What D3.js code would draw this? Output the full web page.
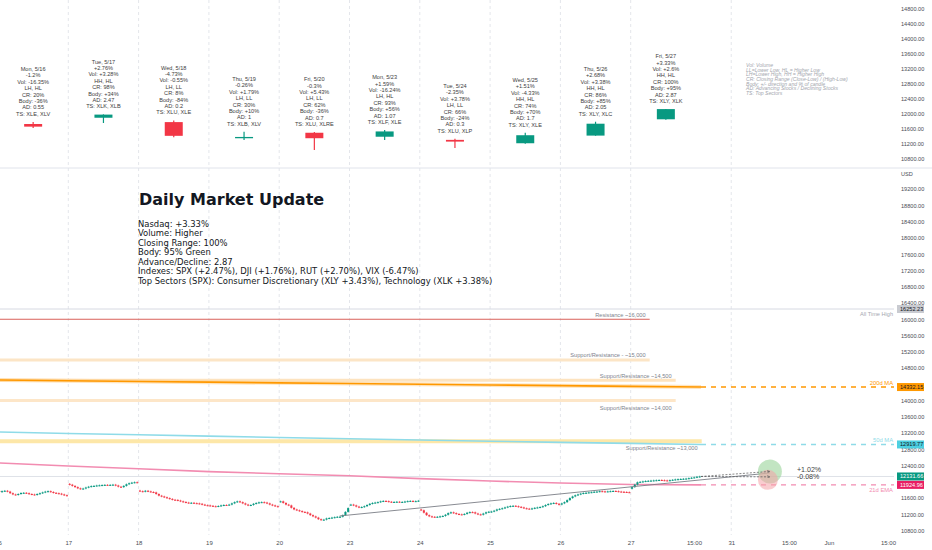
<!DOCTYPE html>
<html>
<head>
<meta charset="utf-8">
<script src="https://cdn.jsdelivr.net/npm/d3@7"></script>
<style>
html, body { margin: 0; padding: 0; background: #fff; }
svg { display: block; font-family: "Liberation Sans", Arial, sans-serif; }
</style>
</head>
<body>
<svg id="chart" width="932" height="550"></svg>
<script>
// ---- daily candles (top pane) ----
const dayLabels  = ["Mon, 5/16", "Tue, 5/17", "Wed, 5/18", "Thu, 5/19", "Fri, 5/20", "Mon, 5/23", "Tue, 5/24", "Wed, 5/25", "Thu, 5/26", "Fri, 5/27"];
const dailyOpen  = [11733, 11900, 11784, 11360, 11500, 11394, 11310, 11220, 11424, 11859];
const dailyHigh  = [11790, 11990, 11827, 11528, 11520, 11573, 11340, 11501, 11794, 12131];
const dailyLow   = [11630, 11760, 11383, 11306, 11040, 11306, 11093, 11208, 11420, 11845];
const dailyClose = [11663, 11984, 11418, 11388, 11354, 11535, 11264, 11434, 11741, 12131];
const dayChange  = ["-1.2%", "+2.76%", "-4.73%", "-0.26%", "-0.3%", "+1.59%", "-2.35%", "+1.51%", "+2.68%", "+3.33%"];
const volChange  = ["-16.35%", "+3.28%", "-0.55%", "+1.79%", "+5.43%", "-16.24%", "+3.78%", "-4.33%", "+3.38%", "+2.6%"];
const structure  = ["LH, HL", "HH, HL", "LH, LL", "LH, LL", "LH, LL", "LH, HL", "LH, LL", "HH, HL", "HH, HL", "HH, HL"];
const closeRange = ["20%", "98%", "8%", "30%", "62%", "93%", "66%", "74%", "86%", "100%"];
const bodyPct    = ["-36%", "+34%", "-84%", "+10%", "-36%", "+56%", "-24%", "+70%", "+85%", "+95%"];
const adRatio    = ["0.55", "2.47", "0.2", "1", "0.7", "1.07", "0.3", "1.7", "2.05", "2.87"];
const topSectors = ["XLE, XLV", "XLK, XLB", "XLU, XLE", "XLB, XLV", "XLU, XLRE", "XLF, XLE", "XLU, XLP", "XLY, XLE", "XLY, XLC", "XLY, XLK"];

// ---- intraday 15-minute closes (bottom pane), one row per session ----
const sessionOpen = [11776, 11950, 11785, 11420, 11510, 11430, 11320, 11255, 11440, 11830];
const intraday = [
  [11750, 11770, 11780, 11760, 11720, 11690, 11680, 11700, 11725, 11730, 11720, 11700, 11690, 11680, 11700, 11720, 11740, 11760, 11770, 11750, 11730, 11720, 11710, 11690, 11670, 11662],
  [11930, 11900, 11870, 11840, 11825, 11835, 11860, 11880, 11895, 11900, 11910, 11915, 11920, 11925, 11920, 11925, 11930, 11910, 11880, 11870, 11900, 11940, 11965, 11980, 11990, 11984],
  [11770, 11760, 11780, 11765, 11750, 11740, 11700, 11660, 11640, 11620, 11600, 11580, 11560, 11555, 11540, 11520, 11505, 11490, 11480, 11485, 11475, 11470, 11460, 11440, 11425, 11418],
  [11410, 11400, 11395, 11405, 11420, 11430, 11425, 11440, 11470, 11500, 11520, 11500, 11470, 11440, 11420, 11430, 11460, 11480, 11495, 11500, 11490, 11470, 11440, 11420, 11400, 11389],
  [11520, 11480, 11440, 11420, 11360, 11320, 11300, 11280, 11260, 11250, 11220, 11180, 11150, 11120, 11080, 11060, 11070, 11100, 11110, 11120, 11130, 11140, 11140, 11180, 11260, 11354],
  [11440, 11420, 11390, 11370, 11380, 11400, 11430, 11460, 11480, 11490, 11500, 11520, 11530, 11525, 11510, 11500, 11505, 11510, 11500, 11505, 11515, 11525, 11530, 11520, 11525, 11535],
  [11300, 11240, 11180, 11150, 11140, 11135, 11140, 11150, 11160, 11190, 11230, 11250, 11230, 11210, 11200, 11195, 11210, 11240, 11255, 11250, 11220, 11200, 11190, 11220, 11250, 11264],
  [11270, 11290, 11320, 11335, 11350, 11370, 11390, 11405, 11410, 11400, 11385, 11370, 11350, 11340, 11335, 11345, 11360, 11370, 11380, 11400, 11430, 11455, 11470, 11480, 11460, 11434],
  [11470, 11500, 11550, 11600, 11640, 11670, 11690, 11710, 11725, 11730, 11740, 11745, 11755, 11760, 11770, 11765, 11760, 11765, 11770, 11775, 11770, 11760, 11755, 11750, 11745, 11741],
  [11870, 11930, 11990, 12000, 12010, 12020, 12025, 12030, 12035, 12040, 12045, 12040, 12035, 12030, 12040, 12050, 12060, 12065, 12070, 12075, 12080, 12090, 12100, 12110, 12125, 12131.66]
];

// ---- moving averages at each session boundary ----
const ma200 = [14506, 14488, 14470, 14452, 14435, 14418, 14400, 14383, 14366, 14349, 14332.15];
const ma50  = [13226, 13190, 13160, 13125, 13090, 13060, 13030, 13000, 12970, 12945, 12919.77];
const ema21 = [12464, 12390, 12320, 12250, 12200, 12150, 12080, 12020, 11970, 11935, 11924.96];

// ---- drawn levels ----
const srLevels = [16000, 15000, 14500, 14000, 13000];
const srLabels = ["Resistance ~16,000", "Support/Resistance - ~15,000", "Support/Resistance ~14,500", "Support/Resistance ~14,000", "Support/Resistance ~13,000"];
const srEndDay = [9.27, 9.27, 9.64, 9.64, 10.01];
const allTimeHigh = 16252.23;
const lastPrice = 12131.66;
const trendLine = [[4.86, 11160], [10.98, 12218]];
const projTime = 10.98;
const projPct = [1.02, -0.08];

// ---- axes ----
const topTicks = [14800, 14400, 14000, 13600, 13200, 12800, 12400, 12000, 11600, 11200, 10800];
const lowTicks = [19200, 18800, 18400, 18000, 17600, 17200, 16800, 16400, 16000, 15600, 15200, 14800, 14400, 14000, 13600, 13200, 12800, 12400, 12000, 11600, 11200, 10800];
const timeTickLabels = ["16", "17", "18", "19", "20", "23", "24", "25", "26", "27", "15:00", "31", "15:00", "Jun", "15:00"];
const timeTickPos    = [0, 1, 2, 3, 4, 5, 6, 7, 8, 9, 9.9, 10.43, 11.25, 11.82, 12.66];

// ---- text ----
const summaryTitle = "Daily Market Update";
const summaryLines = [
  "Nasdaq: +3.33%",
  "Volume: Higher",
  "Closing Range: 100%",
  "Body: 95% Green",
  "Advance/Decline: 2.87",
  "Indexes: SPX (+2.47%), DJI (+1.76%), RUT (+2.70%), VIX (-6.47%)",
  "Top Sectors (SPX): Consumer Discretionary (XLY +3.43%), Technology (XLK +3.38%)"
];
const legendLines = [
  "Vol: Volume",
  "LL=Lower Low, HL = Higher Low",
  "LH=Lower High, HH = Higher High",
  "CR: Closing Range (Close-Low) / (High-Low)",
  "Body: +/- direction and % of candle",
  "AD: Advancing Stocks / Declining Stocks",
  "TS: Top Sectors"
];

// ================= drawing =================
const svg = d3.select("#chart");
const plotR = 894, paneSplit = 168, lowBottom = 535;
const UP = "#089981", DOWN = "#f23645";

const x = d3.scaleLinear().domain([0, 10]).range([-2, 701]);
const yTop = d3.scaleLinear().domain([10800, 14800]).range([159, 9]);
const yLow = d3.scaleLinear().domain([10800, 16400]).range([530.6, 303]);

const defs = svg.append("defs");
defs.append("clipPath").attr("id", "clipTop")
  .append("rect").attr("x", 0).attr("y", 0).attr("width", plotR).attr("height", paneSplit);
defs.append("clipPath").attr("id", "clipLow")
  .append("rect").attr("x", 0).attr("y", paneSplit).attr("width", plotR).attr("height", lowBottom - paneSplit);
defs.append("marker").attr("id", "arr")
  .attr("viewBox", "0 0 6 6").attr("refX", 6).attr("refY", 3)
  .attr("markerWidth", 4).attr("markerHeight", 4).attr("orient", "auto")
  .append("path").attr("d", "M0,0L6,3L0,6").attr("fill", "none").attr("stroke", "#555").attr("stroke-width", 1);

// grid lines at session starts
const gridPos = timeTickPos.filter((d, i) => /^\d+$/.test(timeTickLabels[i]) && d > 0);
[[0, paneSplit], [paneSplit, lowBottom]].forEach(([y0, y1]) => {
  svg.append("g").selectAll("line").data(gridPos).enter().append("line")
    .attr("x1", d => x(d)).attr("x2", d => x(d))
    .attr("y1", y0).attr("y2", y1)
    .attr("stroke", "#e4e6eb").attr("stroke-dasharray", "3,3");
});

// pane separator
svg.append("line").attr("x1", 0).attr("x2", 932).attr("y1", paneSplit).attr("y2", paneSplit)
  .attr("stroke", "#e0e3eb");

// ---------- top pane ----------
const topPane = svg.append("g").attr("clip-path", "url(#clipTop)");
const days = dayLabels.map((d, i) => ({
  i, label: d, o: dailyOpen[i], h: dailyHigh[i], l: dailyLow[i], c: dailyClose[i],
  lines: [d, dayChange[i], "Vol: " + volChange[i], structure[i], "CR: " + closeRange[i],
          "Body: " + bodyPct[i], "AD: " + adRatio[i], "TS: " + topSectors[i]]
}));
const dc = topPane.selectAll("g.day").data(days).enter().append("g");
dc.append("line")
  .attr("x1", d => x(d.i + 0.5)).attr("x2", d => x(d.i + 0.5))
  .attr("y1", d => yTop(d.h)).attr("y2", d => yTop(d.l))
  .attr("stroke", d => d.c >= d.o ? UP : DOWN).attr("stroke-width", 1.2);
dc.append("rect")
  .attr("x", d => x(d.i + 0.5) - 9).attr("width", 18)
  .attr("y", d => yTop(Math.max(d.o, d.c)))
  .attr("height", d => Math.max(1.3, Math.abs(yTop(d.o) - yTop(d.c))))
  .attr("fill", d => d.c >= d.o ? UP : DOWN);
dc.append("text")
  .attr("text-anchor", "middle")
  .attr("font-size", 5.6).attr("fill", "#3d3d3d")
  .each(function (d) {
    const t = d3.select(this);
    const base = yTop(d.h) - 6;
    d.lines.forEach((s, k) => {
      t.append("tspan").attr("x", x(d.i + 0.5)).attr("y", base - (d.lines.length - 1 - k) * 6.4).text(s);
    });
  });

// legend (top right)
svg.append("text").attr("font-size", 5.1).attr("font-style", "italic").attr("fill", "#a3a6ae")
  .selectAll("tspan").data(legendLines).enter().append("tspan")
  .attr("x", 746).attr("y", (d, i) => 67.3 + i * 4.55).text(d => d);

// ---------- bottom pane ----------
const lowPane = svg.append("g").attr("clip-path", "url(#clipLow)");

// all time high & last price lines
lowPane.append("line").attr("x1", 0).attr("x2", plotR)
  .attr("y1", yLow(allTimeHigh)).attr("y2", yLow(allTimeHigh))
  .attr("stroke", "#d6d9e2").attr("stroke-width", 1);
lowPane.append("line").attr("x1", 0).attr("x2", plotR)
  .attr("y1", yLow(lastPrice)).attr("y2", yLow(lastPrice))
  .attr("stroke", "#dfe2e8").attr("stroke-width", 1);

// support / resistance
const srStyle = [
  { color: "#d9605a", width: 1, below: false },
  { color: "#fce5c6", width: 3, below: false },
  { color: "#fde3bf", width: 3, below: false },
  { color: "#fde6c8", width: 3, below: true },
  { color: "#fde7a8", width: 4, below: true }
];
srLevels.forEach((lv, i) => {
  const st = srStyle[i];
  lowPane.append("line").attr("x1", 0).attr("x2", x(srEndDay[i]))
    .attr("y1", yLow(lv)).attr("y2", yLow(lv))
    .attr("stroke", st.color).attr("stroke-width", st.width);
});

// moving averages
const maLine = d3.line().x((d, i) => x(i)).y(d => yLow(d));
const mas = [
  { data: ma200, color: "#ff9800", label: "200d MA", halo: "#ffcc80", below: false },
  { data: ma50, color: "#8fdbe8", label: "50d MA", halo: null, below: false },
  { data: ema21, color: "#f28cb1", label: "21d EMA", halo: null, below: true }
];
mas.forEach(m => {
  if (m.halo) lowPane.append("path").attr("d", maLine(m.data)).attr("fill", "none")
    .attr("stroke", m.halo).attr("stroke-opacity", 0.5).attr("stroke-width", 4);
  lowPane.append("path").attr("d", maLine(m.data)).attr("fill", "none")
    .attr("stroke", m.color).attr("stroke-width", 1.6);
  const last = m.data[m.data.length - 1];
  lowPane.append("line").attr("x1", x(m.data.length - 1)).attr("x2", plotR)
    .attr("y1", yLow(last)).attr("y2", yLow(last))
    .attr("stroke", m.color).attr("stroke-width", 1.4).attr("stroke-dasharray", "5,5");
  lowPane.append("text").attr("x", plotR - 1).attr("y", yLow(last) + (m.below ? 7 : -2.5))
    .attr("text-anchor", "end").attr("font-size", 5.8).attr("fill", m.color).text(m.label);
});

// s/r labels (drawn after MAs so they sit on top)
srLevels.forEach((lv, i) => {
  const st = srStyle[i];
  lowPane.append("text").attr("x", x(srEndDay[i]) - 4)
    .attr("y", yLow(lv) + (st.below ? 9 : -2.5))
    .attr("text-anchor", "end").attr("font-size", 5.7).attr("fill", "#80838d").text(srLabels[i]);
});
lowPane.append("text").attr("x", plotR - 1).attr("y", yLow(allTimeHigh) + 6.5)
  .attr("text-anchor", "end").attr("font-size", 5.6).attr("fill", "#a5a8b0").text("All Time High");

// intraday candles
const bars = [];
intraday.forEach((row, d) => {
  row.forEach((c, k) => {
    const o = k === 0 ? sessionOpen[d] : row[k - 1];
    bars.push({ t: d + (k + 0.5) / row.length, o, c });
  });
});
const bw = (x(1) - x(0)) / 26;
const bg = lowPane.append("g");
bg.selectAll("line").data(bars).enter().append("line")
  .attr("x1", d => x(d.t)).attr("x2", d => x(d.t))
  .attr("y1", d => yLow(Math.max(d.o, d.c)) - 0.8)
  .attr("y2", d => yLow(Math.min(d.o, d.c)) + 0.8)
  .attr("stroke", d => d.c >= d.o ? UP : DOWN).attr("stroke-width", 0.6);
bg.selectAll("rect").data(bars).enter().append("rect")
  .attr("x", d => x(d.t) - bw * 0.38).attr("width", bw * 0.76)
  .attr("y", d => yLow(Math.max(d.o, d.c)))
  .attr("height", d => Math.max(1, Math.abs(yLow(d.o) - yLow(d.c))))
  .attr("fill", d => d.c >= d.o ? UP : DOWN);

// trend line
lowPane.append("line")
  .attr("x1", x(trendLine[0][0])).attr("y1", yLow(trendLine[0][1]))
  .attr("x2", x(trendLine[1][0])).attr("y2", yLow(trendLine[1][1]))
  .attr("stroke", "#7b7e86").attr("stroke-width", 0.9);

// projection
const projTargets = projPct.map(p => lastPrice * (1 + p / 100));
lowPane.append("circle").attr("cx", x(projTime)).attr("cy", yLow(projTargets[0]))
  .attr("r", 12).attr("fill", "#8fcf8f").attr("fill-opacity", 0.55);
lowPane.append("circle").attr("cx", x(projTime) - 2).attr("cy", yLow(projTargets[1]) + 3)
  .attr("r", 10).attr("fill", "#f4a3a8").attr("fill-opacity", 0.55);
projTargets.forEach((p, i) => {
  lowPane.append("line").attr("x1", x(10)).attr("y1", yLow(lastPrice))
    .attr("x2", x(projTime)).attr("y2", yLow(p))
    .attr("stroke", "#555").attr("stroke-width", 0.7).attr("stroke-dasharray", "2,1.5")
    .attr("marker-end", "url(#arr)");
  lowPane.append("text").attr("x", x(projTime) + 27).attr("y", yLow(projTargets[0]) + 0.5 + i * 7.2)
    .attr("font-size", 7.1).attr("fill", "#444")
    .text((projPct[i] >= 0 ? "+" : "") + projPct[i].toFixed(2) + "%");
});

// summary text block
svg.append("text").attr("x", 139).attr("y", 205)
  .attr("font-family", "DejaVu Sans").attr("font-weight", "bold").attr("font-size", 16)
  .attr("fill", "#131722").text(summaryTitle);
svg.append("text").attr("font-family", "'DejaVu Sans Condensed', 'DejaVu Sans'")
  .attr("font-stretch", "condensed").attr("font-size", 9.35).attr("fill", "#131722")
  .selectAll("tspan").data(summaryLines).enter().append("tspan")
  .attr("x", 138).attr("y", (d, i) => 226.8 + i * 9.45).text(d => d);

// ---------- price axes ----------
const fmt = d3.format(".2f");
const tags = [
  { v: allTimeHigh, bg: "#c9cbd1", fg: "#131722" },
  { v: ma200[ma200.length - 1], bg: "#ff9800", fg: "#131722" },
  { v: ma50[ma50.length - 1], bg: "#4dd0e1", fg: "#131722" },
  { v: lastPrice, bg: UP, fg: "#ffffff" },
  { v: ema21[ema21.length - 1], bg: "#e91e63", fg: "#ffffff" }
];
// labels that sit under a price tag are hidden, as the platform does
const freeTicks = lowTicks.filter(t => tags.every(g => Math.abs(yLow(t) - yLow(g.v)) > 4.5));
const axTop = svg.append("g").attr("transform", "translate(899,0)")
  .call(d3.axisRight(yTop).tickValues(topTicks).tickFormat(fmt).tickSize(0));
const axLow = svg.append("g").attr("transform", "translate(899,0)")
  .call(d3.axisRight(yLow).tickValues(freeTicks).tickFormat(fmt).tickSize(0));
[axTop, axLow].forEach(a => {
  a.select(".domain").remove();
  a.selectAll("text").attr("x", 2).attr("font-size", 5.6).attr("fill", "#4a4d55")
    .attr("font-family", "'Liberation Sans', Arial, sans-serif");
});
svg.append("text").attr("x", 901).attr("y", 176).attr("font-size", 5.6).attr("fill", "#4a4d55").text("USD");

// price tags
const tg = svg.append("g").selectAll("g").data(tags).enter().append("g")
  .attr("transform", d => `translate(897,${yLow(d.v)})`);
tg.append("rect").attr("x", 0).attr("y", -4).attr("width", 27).attr("height", 8).attr("fill", d => d.bg);
tg.append("text").attr("x", 3).attr("y", 2).attr("font-size", 5.6).attr("fill", d => d.fg).text(d => fmt(d.v));

// ---------- time axis ----------
const axT = svg.append("g").attr("transform", `translate(0,${lowBottom})`)
  .call(d3.axisBottom(x).tickValues(timeTickPos).tickFormat((d, i) => timeTickLabels[i]).tickSize(0));
axT.select(".domain").remove();
axT.selectAll("text").attr("y", 6).attr("font-size", 6).attr("fill", "#4a4d55")
  .attr("font-family", "'Liberation Sans', Arial, sans-serif");
</script>
</body>
</html>
